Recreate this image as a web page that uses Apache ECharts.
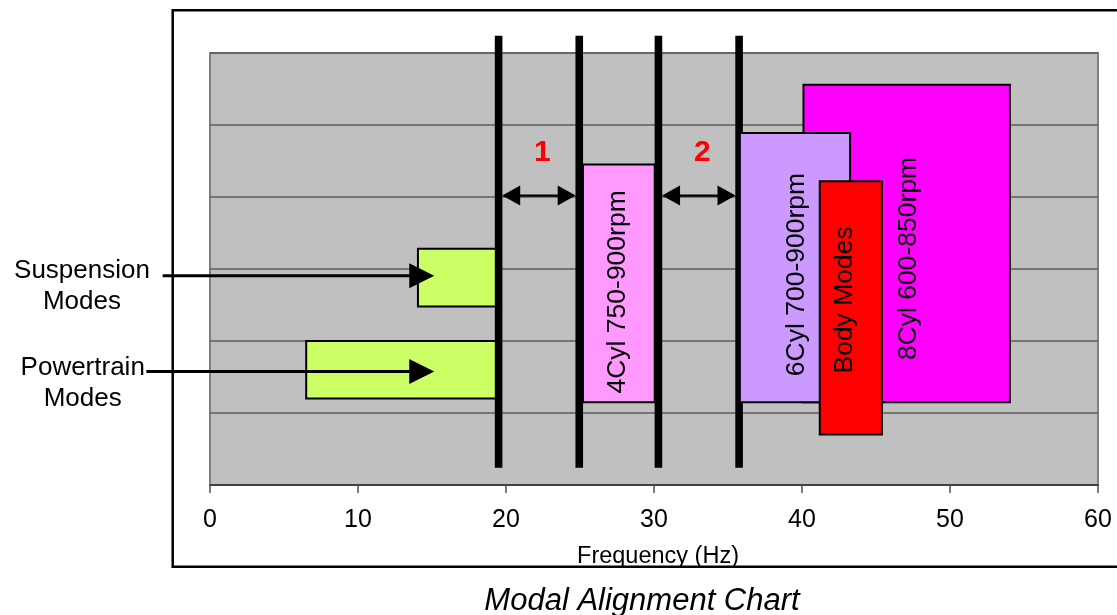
<!DOCTYPE html>
<html><head><meta charset="utf-8">
<script src="https://cdn.jsdelivr.net/npm/echarts@6/dist/echarts.min.js"></script>
<style>html,body{margin:0;padding:0;background:#fff}#c{width:1117px;height:615px}</style>
</head><body><div id="c"></div>
<script>
// ---------- data ----------
const xMin = 0, xMax = 60, xStep = 10;
const yMin = 0, yMax = 6, yStep = 1;

// low-frequency mode boxes (Hz range, vertical extent in row units)
const modeNames = ['Powertrain Modes', 'Suspension Modes'];
const modeX0 = [6.5, 14.05];
const modeX1 = [19.5, 19.5];
const modeY0 = [1.2, 2.48];
const modeY1 = [2.0, 3.28];

// engine firing bands + body modes (drawn back to front)
const bandNames = ['8Cyl 600-850rpm', '6Cyl 700-900rpm', '4Cyl 750-900rpm', 'Body Modes'];
const bandX0 = [40.1, 35.8, 25.2, 41.2];
const bandX1 = [54.05, 43.25, 30.05, 45.4];
const bandY0 = [1.15, 1.15, 1.15, 0.7];
const bandY1 = [5.56, 4.89, 4.45, 4.22];

// heavy black limit lines
const limitX = [19.5, 24.95, 30.3, 35.75];
const limitY0 = [0.24, 0.24, 0.24, 0.24];
const limitY1 = [6.24, 6.24, 6.24, 6.24];

// separation gaps (double arrows between limit lines)
const gapLabels = ['1', '2'];
const gapFrom = [0, 2];
const gapTo = [1, 3];
const gapY = [4.02, 4.02];

// left-side call-outs
const calloutText = ['Suspension\nModes', 'Powertrain\nModes'];
const calloutTipX = [15.15, 15.15];
const calloutTailX = [-3.2, -4.3];
const calloutY = [2.905, 1.575];
const calloutTextX = [-8.65, -8.6];
const calloutTextY = [2.756, 1.414];

// ---------- styles ----------
const FONT = '"Liberation Sans", Arial, Helvetica, sans-serif';
const modeColor = '#CCFF66';
const bandColors = ['#FF00FF', '#CC99FF', '#FF99FF', '#FF0000'];
const bandLabelOffset = [[2, 15], [1.7, 7], [-1, 8.5], [-6, -8]];

const modeData = modeNames.map((n, i) => [modeX0[i], modeX1[i], modeY0[i], modeY1[i], n]);
const bandData = bandNames.map((n, i) => [bandX0[i], bandX1[i], bandY0[i], bandY1[i], n, i]);
const limitData = limitX.map((x, i) => [x, limitY0[i], limitY1[i]]);
const gapData = gapLabels.map((l, i) => [limitX[gapFrom[i]], limitX[gapTo[i]], gapY[i], l]);
const calloutData = calloutText.map((t, i) => [calloutTailX[i], calloutTipX[i], calloutY[i], calloutTextX[i], calloutTextY[i], t]);

function boxShape(api) {
  const p0 = api.coord([api.value(0), api.value(3)]);
  const p1 = api.coord([api.value(1), api.value(2)]);
  return { x: p0[0], y: p0[1], width: p1[0] - p0[0], height: p1[1] - p0[1] };
}

const chart = echarts.init(document.getElementById('c'), null, { renderer: 'canvas' });
chart.setOption({
  animation: false,
  backgroundColor: '#fff',
  title: {
    text: 'Modal Alignment Chart',
    left: 637, top: 581, textAlign: 'center',
    textStyle: { fontFamily: FONT, fontStyle: 'italic', fontWeight: 'normal', fontSize: 31, color: '#000' }
  },
  graphic: [{
    type: 'rect', z: -10, silent: true,
    shape: { x: 172.7, y: 10.3, width: 1000, height: 556.4 },
    style: { fill: null, stroke: '#000', lineWidth: 2.5 }
  }],
  grid: {
    left: 210, top: 53, width: 888, height: 432,
    show: true, backgroundColor: '#C0C0C0', borderColor: '#808080', borderWidth: 2
  },
  xAxis: {
    type: 'value', min: xMin, max: xMax, interval: xStep,
    name: 'Frequency (Hz)', nameLocation: 'middle', nameGap: 60,
    nameTextStyle: { fontFamily: FONT, fontSize: 23.5, color: '#000', padding: [0, 0, 0, 8] },
    axisLine: { show: true, lineStyle: { color: '#404040', width: 2 } },
    axisTick: { show: true, length: 8, lineStyle: { color: '#505050', width: 1.5 } },
    axisLabel: { fontFamily: FONT, fontSize: 25, color: '#000', margin: 23 },
    splitLine: { show: false }
  },
  yAxis: {
    type: 'value', min: yMin, max: yMax, interval: yStep,
    axisLine: { show: false }, axisTick: { show: false }, axisLabel: { show: false },
    splitLine: { show: true, lineStyle: { color: '#5e5e5e', width: 1.5 } }
  },
  series: [
    {
      type: 'custom', name: 'modes', z: 2, clip: false,
      encode: { x: [0, 1], y: [2, 3] },
      data: modeData,
      renderItem: (params, api) => ({
        type: 'rect', shape: boxShape(api),
        style: { fill: modeColor, stroke: '#000', lineWidth: 2 }
      })
    },
    {
      type: 'custom', name: 'limits', z: 3, clip: false,
      encode: { x: 0, y: [1, 2] },
      data: limitData,
      renderItem: (params, api) => {
        const a = api.coord([api.value(0), api.value(2)]);
        const b = api.coord([api.value(0), api.value(1)]);
        return { type: 'rect', shape: { x: a[0] - 3.8, y: a[1], width: 7.6, height: b[1] - a[1] }, style: { fill: '#000' } };
      }
    },
    {
      type: 'custom', name: 'bands', z: 4, clip: false,
      encode: { x: [0, 1], y: [2, 3] },
      data: bandData,
      renderItem: (params, api) => {
        const s = boxShape(api);
        const idx = api.value(5);
        const off = bandLabelOffset[idx];
        return {
          type: 'group',
          children: [
            { type: 'rect', shape: s, style: { fill: bandColors[idx], stroke: '#000', lineWidth: 2 } },
            {
              type: 'text', x: s.x + s.width / 2 + off[0], y: s.y + s.height / 2 + off[1], rotation: Math.PI / 2,
              style: { text: bandNames[idx], font: '26.5px ' + FONT, fill: '#000', textAlign: 'center', textVerticalAlign: 'middle' }
            }
          ]
        };
      }
    },
    {
      type: 'custom', name: 'gaps', z: 5, clip: false,
      encode: { x: [0, 1], y: 2 },
      data: gapData,
      renderItem: (params, api) => {
        const a = api.coord([api.value(0), api.value(2)]);
        const b = api.coord([api.value(1), api.value(2)]);
        const x0 = a[0] + 3.6, x1 = b[0] - 3.6, y = a[1];
        const L = 18, H = 10;
        return {
          type: 'group',
          children: [
            { type: 'line', shape: { x1: x0 + L - 2, y1: y, x2: x1 - L + 2, y2: y }, style: { stroke: '#000', lineWidth: 2.2 } },
            { type: 'polygon', shape: { points: [[x0, y], [x0 + L, y - H], [x0 + L, y + H]] }, style: { fill: '#000' } },
            { type: 'polygon', shape: { points: [[x1, y], [x1 - L, y - H], [x1 - L, y + H]] }, style: { fill: '#000' } },
            {
              type: 'text', x: (x0 + x1) / 2 + 3.5, y: y - 43,
              style: { text: gapLabels[params.dataIndex], font: 'bold 30px ' + FONT, fill: '#FF0000', textAlign: 'center', textVerticalAlign: 'middle' }
            }
          ]
        };
      }
    },
    {
      type: 'custom', name: 'callouts', z: 6, clip: false,
      encode: { x: [0, 1], y: 2 },
      data: calloutData,
      renderItem: (params, api) => {
        const a = api.coord([api.value(0), api.value(2)]);
        const b = api.coord([api.value(1), api.value(2)]);
        const t = api.coord([api.value(3), api.value(4)]);
        const y = a[1], L = 25, H = 12.5;
        return {
          type: 'group',
          children: [
            { type: 'line', shape: { x1: a[0], y1: y, x2: b[0] - L + 2, y2: y }, style: { stroke: '#000', lineWidth: 3 } },
            { type: 'polygon', shape: { points: [[b[0], y], [b[0] - L, y - H], [b[0] - L, y + H]] }, style: { fill: '#000' } },
            {
              type: 'text', x: t[0], y: t[1],
              style: { text: calloutText[params.dataIndex], font: '26px ' + FONT, lineHeight: 31.5, fill: '#000', textAlign: 'center', textVerticalAlign: 'middle' }
            }
          ]
        };
      }
    }
  ]
});
</script>
</body></html>
